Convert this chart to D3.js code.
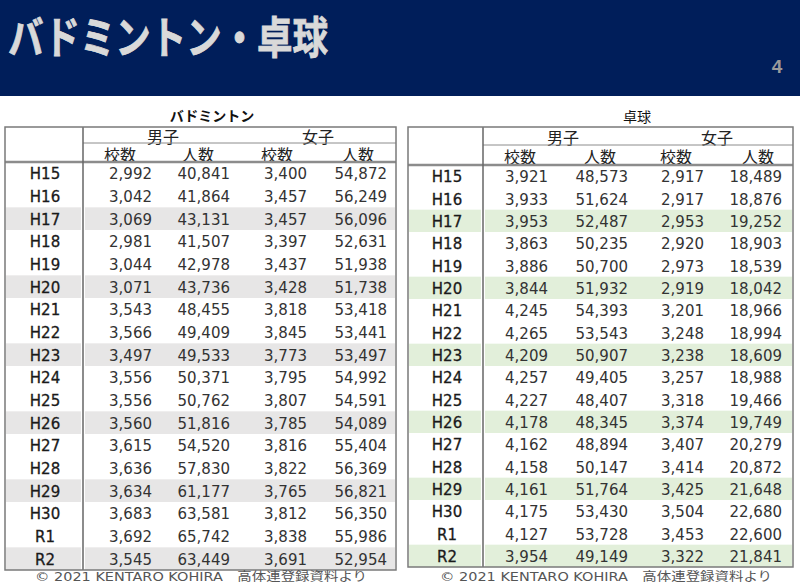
<!DOCTYPE html>
<html>
<head>
<meta charset="utf-8">
<script src="https://cdn.jsdelivr.net/npm/d3@7"></script>
<style>
  html, body { margin: 0; padding: 0; background: #fff; }
  svg { display: block; }
</style>
</head>
<body>
<svg id="chart" width="800" height="585"></svg>
<script>
// ---- data ----
const pageTitle = "バドミントン・卓球";
const pageNumber = "4";
const years = ["H15","H16","H17","H18","H19","H20","H21","H22","H23","H24","H25","H26","H27","H28","H29","H30","R1","R2"];
const genderLabels = ["男子", "女子"];
const colLabels = ["校数", "人数", "校数", "人数"];
const footerText = "© 2021 KENTARO KOHIRA　高体連登録資料より";

const badmintonTitle = "バドミントン";
const badMaleSchools   = [2992,3042,3069,2981,3044,3071,3543,3566,3497,3556,3556,3560,3615,3636,3634,3683,3692,3545];
const badMalePlayers   = [40841,41864,43131,41507,42978,43736,48455,49409,49533,50371,50762,51816,54520,57830,61177,63581,65742,63449];
const badFemaleSchools = [3400,3457,3457,3397,3437,3428,3818,3845,3773,3795,3807,3785,3816,3822,3765,3812,3838,3691];
const badFemalePlayers = [54872,56249,56096,52631,51938,51738,53418,53441,53497,54992,54591,54089,55404,56369,56821,56350,55986,52954];

const ttTitle = "卓球";
const ttMaleSchools   = [3921,3933,3953,3863,3886,3844,4245,4265,4209,4257,4227,4178,4162,4158,4161,4175,4127,3954];
const ttMalePlayers   = [48573,51624,52487,50235,50700,51932,54393,53543,50907,49405,48407,48345,48894,50147,51764,53430,53728,49149];
const ttFemaleSchools = [2917,2917,2953,2920,2973,2919,3201,3248,3238,3257,3318,3374,3407,3414,3425,3504,3453,3322];
const ttFemalePlayers = [18489,18876,19252,18903,18539,18042,18966,18994,18609,18988,19466,19749,20279,20872,21648,22680,22600,21841];

// ---- drawing ----
const svg = d3.select("#chart");
const fmt = d3.format(",");
const numFont = "'DejaVu Sans', Verdana, sans-serif";
const jpFont = "'Noto Sans CJK JP', sans-serif";

// header band
svg.append("rect").attr("x", 0).attr("y", 0).attr("width", 800).attr("height", 96).attr("fill", "#001e5a");
svg.append("text").attr("x", 8).attr("y", 35)
  .attr("dominant-baseline", "central")
  .attr("font-family", jpFont).attr("font-weight", 700).attr("font-size", 44)
  .attr("textLength", 320).attr("lengthAdjust", "spacingAndGlyphs")
  .attr("fill", "#d9d9d9").attr("stroke", "#d9d9d9").attr("stroke-width", 0.8)
  .text(pageTitle);
svg.append("text").attr("x", 777).attr("y", 66)
  .attr("text-anchor", "middle").attr("dominant-baseline", "central")
  .attr("font-family", "'Liberation Sans', Arial, sans-serif").attr("font-weight", 700).attr("font-size", 19)
  .attr("fill", "#9a9a9a").text(pageNumber);

function drawTable(cfg) {
  const g = svg.append("g");
  const cols = [cfg.ms, cfg.mp, cfg.fs, cfg.fp];
  const y = d3.scaleBand().domain(years).range([cfg.headBottom, cfg.bottom]);
  const colRight = d3.scaleOrdinal().domain([0,1,2,3]).range(cfg.colRights);
  const colCenter = d3.scaleOrdinal().domain([0,1,2,3]).range(cfg.colCenters);

  // title
  g.append("text").attr("x", cfg.titleX).attr("y", cfg.titleY)
    .attr("text-anchor", "middle").attr("dominant-baseline", "central")
    .attr("font-family", jpFont).attr("font-weight", cfg.titleBold ? 700 : 400).attr("font-size", 14)
    .attr("fill", "#111").text(cfg.title);

  // highlighted rows
  const hl = years.filter((d, i) => i % 3 === 2);
  g.selectAll("rect.hlA").data(hl).join("rect")
    .attr("x", cfg.left + 1).attr("width", cfg.divider - cfg.left - 3)
    .attr("y", d => y(d)).attr("height", y.bandwidth()).attr("fill", cfg.hlColor);
  g.selectAll("rect.hlB").data(hl).join("rect")
    .attr("x", cfg.divider + 2).attr("width", cfg.right - cfg.divider - 3)
    .attr("y", d => y(d)).attr("height", y.bandwidth()).attr("fill", cfg.hlColor);

  // header texts
  g.selectAll("text.gender").data(genderLabels).join("text")
    .attr("x", (d, i) => cfg.genderCenters[i]).attr("y", (cfg.top + cfg.midLine) / 2 + 1)
    .attr("text-anchor", "middle").attr("dominant-baseline", "central")
    .attr("font-family", jpFont).attr("font-size", 16).attr("fill", "#222").text(d => d);
  g.selectAll("text.col").data(colLabels).join("text")
    .attr("x", (d, i) => colCenter(i)).attr("y", (cfg.midLine + cfg.headBottom) / 2 + 1)
    .attr("text-anchor", "middle").attr("dominant-baseline", "central")
    .attr("font-family", jpFont).attr("font-size", 16).attr("fill", "#222").text(d => d);

  // row labels
  g.selectAll("text.yr").data(years).join("text")
    .attr("x", cfg.labelX).attr("y", d => y(d) + y.bandwidth() / 2 + 1)
    .attr("text-anchor", "middle").attr("dominant-baseline", "central")
    .attr("font-family", numFont).attr("font-size", 15)
    .attr("fill", "#1a1a1a").attr("stroke", "#1a1a1a").attr("stroke-width", 0.3)
    .text(d => d);

  // values
  cols.forEach((arr, ci) => {
    g.selectAll("text.v" + ci).data(arr).join("text")
      .attr("x", colRight(ci)).attr("y", (d, i) => y(years[i]) + y.bandwidth() / 2 + 1)
      .attr("text-anchor", "end").attr("dominant-baseline", "central")
      .attr("font-family", numFont).attr("font-size", 15)
      .attr("fill", "#333").text(d => fmt(d));
  });

  // lines
  const line = (x1, y1, x2, y2, w, c) => g.append("line")
    .attr("x1", x1).attr("y1", y1).attr("x2", x2).attr("y2", y2)
    .attr("stroke", c).attr("stroke-width", w);
  line(cfg.divider, cfg.midLine, cfg.right, cfg.midLine, 1, "#8c8c8c");
  line(cfg.left, cfg.headBottom, cfg.right, cfg.headBottom, 2.5, "#8c8c8c");
  line(cfg.divider, cfg.top, cfg.divider, cfg.bottom, 1.5, "#666");
  g.append("rect").attr("x", cfg.left).attr("y", cfg.top)
    .attr("width", cfg.right - cfg.left).attr("height", cfg.bottom - cfg.top)
    .attr("fill", "none").attr("stroke", "#7a7a7a").attr("stroke-width", 1.5);

  // footer
  g.append("text").attr("x", cfg.footerX - 166).attr("y", 577)
    .attr("dominant-baseline", "central")
    .attr("font-family", numFont + ", 'Noto Sans CJK JP'").attr("font-size", 12)
    .attr("textLength", 332).attr("lengthAdjust", "spacingAndGlyphs")
    .attr("fill", "#555").text(footerText);
}

drawTable({
  title: badmintonTitle, titleBold: true, titleX: 212, titleY: 115,
  ms: badMaleSchools, mp: badMalePlayers, fs: badFemaleSchools, fp: badFemalePlayers,
  left: 5, right: 396, divider: 83, top: 127, midLine: 143, headBottom: 162, bottom: 570,
  labelX: 45, colRights: [152, 230, 307, 387], colCenters: [120, 198, 277, 358], genderCenters: [163, 318],
  hlColor: "#e7e6e6", footerX: 201
});

drawTable({
  title: ttTitle, titleBold: false, titleX: 637, titleY: 116,
  ms: ttMaleSchools, mp: ttMalePlayers, fs: ttFemaleSchools, fp: ttFemalePlayers,
  left: 408, right: 793, divider: 483, top: 127, midLine: 145, headBottom: 165, bottom: 567,
  labelX: 447, colRights: [548, 628, 704, 782], colCenters: [520, 600, 676, 758], genderCenters: [563, 717],
  hlColor: "#e2efda", footerX: 606
});
</script>
</body>
</html>
